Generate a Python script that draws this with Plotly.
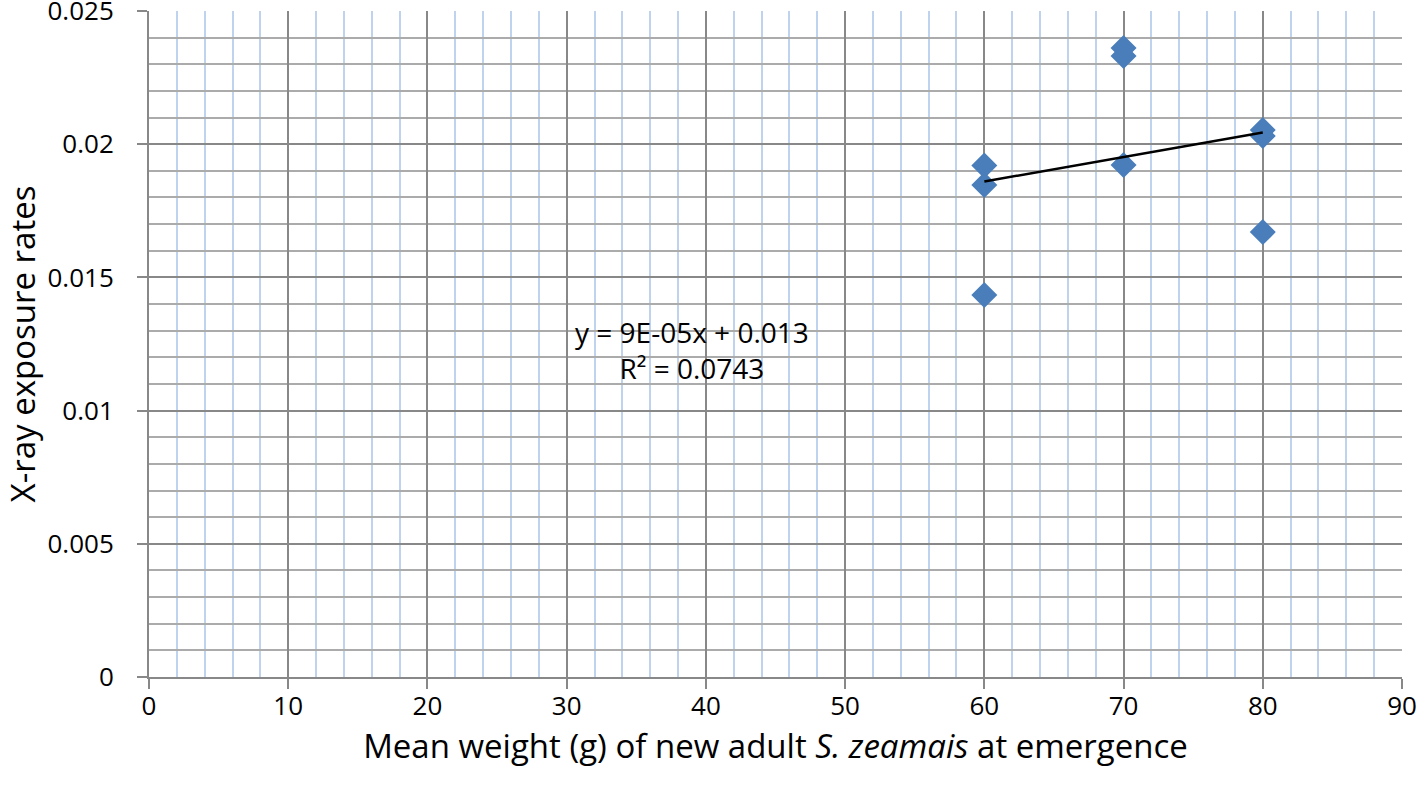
import numpy as np
import plotly.graph_objects as go

# mean weight (g) of new adults and x-ray exposure rate
weights = [60, 60, 60, 70, 70, 70, 80, 80, 80]
exposure = [0.0192, 0.01847, 0.01434, 0.02361, 0.02331, 0.01922, 0.02053, 0.02031, 0.0167]

y_ticks = [0, 0.005, 0.01, 0.015, 0.02, 0.025]
y_labels = ["0", "0.005", "0.01", "0.015", "0.02", "0.025"]
x_ticks = [0, 10, 20, 30, 40, 50, 60, 70, 80, 90]

eq_text = "y = 9E-05x + 0.013<br>R² = 0.0743"

slope, intercept = np.polyfit(weights, exposure, 1)
fit_x = [min(weights), max(weights)]
fit_y = [slope * v + intercept for v in fit_x]

font = "Open Sans, sans-serif"

fig = go.Figure()
fig.add_trace(
    go.Scatter(
        x=weights,
        y=exposure,
        mode="markers",
        marker=dict(symbol="diamond", size=20, color="#4a7ebb"),
        showlegend=False,
    )
)
fig.add_trace(
    go.Scatter(
        x=fit_x,
        y=fit_y,
        mode="lines",
        line=dict(color="black", width=2.5),
        showlegend=False,
    )
)
fig.add_annotation(
    x=39.0,
    y=0.01227,
    xref="x",
    yref="y",
    text=eq_text,
    showarrow=False,
    font=dict(size=28, color="black", family=font),
    align="center",
)
fig.update_layout(
    width=1418,
    height=791,
    margin=dict(l=149, r=16, t=11, b=114),
    plot_bgcolor="white",
    paper_bgcolor="white",
    font=dict(family=font, color="black"),
    xaxis=dict(
        range=[0, 90],
        tickvals=x_ticks,
        automargin=False,
        showgrid=True,
        gridcolor="#888888",
        gridwidth=2,
        minor=dict(dtick=2, tick0=0, showgrid=True, gridcolor="#bfd2ee", gridwidth=2),
        ticks="outside",
        ticklen=10,
        tickwidth=2,
        tickcolor="#888888",
        showline=True,
        linecolor="#888888",
        linewidth=2,
        zeroline=False,
        tickfont=dict(size=26),
        ticklabelstandoff=-5,
        ticklabeloverflow="allow",
        title=dict(
            text="Mean weight (g) of new adult <i>S. zeamais</i> at emergence",
            font=dict(size=33),
            standoff=4,
        ),
    ),
    yaxis=dict(
        range=[0, 0.025],
        tickvals=y_ticks,
        ticktext=y_labels,
        automargin=False,
        showgrid=True,
        gridcolor="#888888",
        gridwidth=2,
        minor=dict(dtick=0.001, tick0=0, showgrid=True, gridcolor="#ababab", gridwidth=2),
        ticks="outside",
        ticklen=10,
        tickwidth=2,
        tickcolor="#888888",
        showline=True,
        linecolor="#888888",
        linewidth=2,
        zeroline=False,
        tickfont=dict(size=26),
        ticklabelstandoff=18,
        ticklabeloverflow="allow",
        title=dict(text="X-ray exposure rates", font=dict(size=33), standoff=18),
    ),
)

# the page has an 8px body margin by default; drop it so the chart sits at 0,0
fig.write_html(
    "out.html",
    config={"displayModeBar": False},
    post_script="document.body.style.margin='0';document.body.style.overflow='hidden';",
)
